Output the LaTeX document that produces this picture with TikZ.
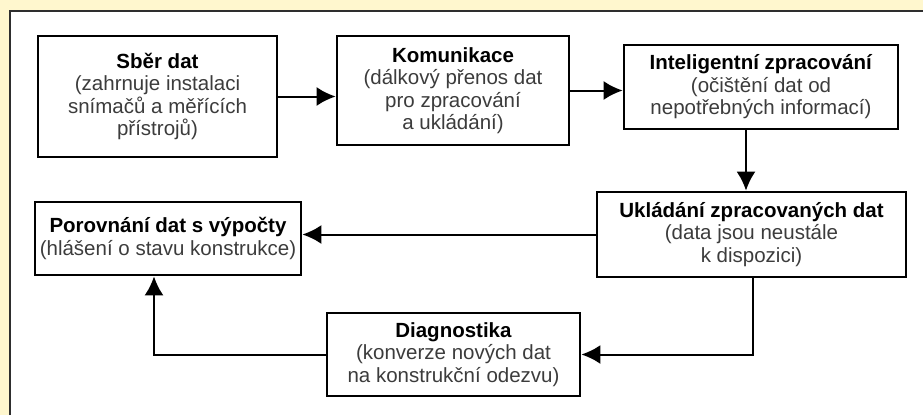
\documentclass[tikz,border=0pt]{standalone}
\usepackage{fontspec}
\setmainfont{Liberation Sans}
\usetikzlibrary{positioning, calc, arrows.meta}
\definecolor{krem}{HTML}{FFF7CE}
\definecolor{ramecek}{HTML}{2E2E2E}
\definecolor{popis}{HTML}{3C3C3C}
\newcommand{\nadpis}[1]{\textcolor{black}{\textbf{#1}}}
\begin{document}
\begin{tikzpicture}[x=1pt,y=-1pt,
        blok/.style={draw=black,line width=2.8pt,fill=white,align=center,inner sep=0pt,
            text=popis,font=\fontsize{20.5}{22.5}\selectfont},
        sipka/.style={line width=2pt,-{Latex[length=19pt,width=19pt]}}]
    \useasboundingbox (0,0) rectangle (923,415);
    \fill[krem] (0,0) rectangle (923,415);
    \fill[white] (10,11) rectangle (923,415);
    \draw[ramecek,line width=1.5pt] (10,415)--(10,11)--(923,11);
    \node[blok,minimum width=239,minimum height=121] (sber) at (157.5,96.5)
        {\nadpis{Sběr dat}\\(zahrnuje instalaci\\snímačů a měřících\\přístrojů)};
    \node[blok,minimum width=232,minimum height=109] (komunikace) at (453,90.5)
        {\nadpis{Komunikace}\\(dálkový přenos dat\\pro zpracování\\a ukládání)};
    \node[blok,minimum width=274,minimum height=84] (zpracovani) at (761,87)
        {\nadpis{Inteligentní zpracování}\\(očištění dat od\\nepotřebných informací)};
    \node[blok,minimum width=309,minimum height=85] (ukladani) at (751.5,234.5)
        {\nadpis{Ukládání zpracovaných dat}\\(data jsou neustále\\k dispozici)};
    \node[blok,minimum width=266,minimum height=73] (porovnani) at (168,238.5)
        {\nadpis{Porovnání dat s výpočty}\\(hlášení o stavu konstrukce)};
    \node[blok,minimum width=253,minimum height=83] (diagnostika) at (453.5,354.5)
        {\nadpis{Diagnostika}\\(konverze nových dat\\na konstrukční odezvu)};
    \coordinate (dolu) at ($(zpracovani.south)+(-15,0)$);
    \coordinate (nahoru) at ($(porovnani.south)+(-14,0)$);
    \coordinate (vystup) at ($(ukladani.south)+(1.5,0)$);
    \draw[sipka] (sber.east) -- (komunikace.west |- sber.east);
    \draw[sipka] (komunikace.east) -- (zpracovani.west |- komunikace.east);
    \draw[sipka] (dolu) -- (dolu |- ukladani.north);
    \draw[sipka] (ukladani.west) -- (porovnani.east |- ukladani.west);
    \draw[sipka] (vystup) |- (diagnostika.east);
    \draw[sipka] (diagnostika.west) -| (nahoru);
\end{tikzpicture}
\end{document}
